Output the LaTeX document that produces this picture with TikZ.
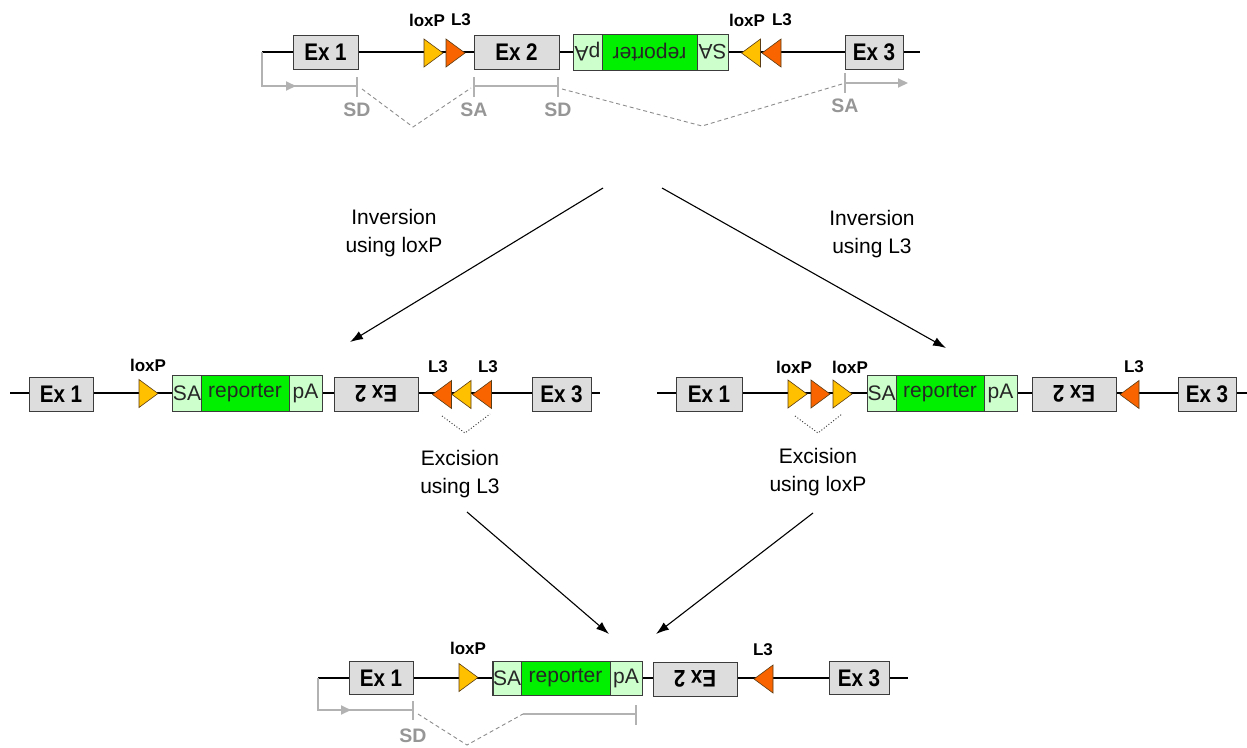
\documentclass[tikz,border=0pt]{standalone}
\usepackage{fontspec}
\setmainfont{Liberation Sans}
\newfontfamily\exfam[FakeStretch=0.86]{Liberation Sans}
\usetikzlibrary{arrows.meta}

\definecolor{exfill}{RGB}{221,221,221}
\definecolor{exedge}{RGB}{60,60,60}
\definecolor{lightgr}{RGB}{204,255,204}
\definecolor{repgr}{RGB}{0,240,0}
\definecolor{loxyel}{RGB}{255,192,0}
\definecolor{lthree}{RGB}{250,100,0}
\definecolor{triedge}{RGB}{90,60,20}
\definecolor{splgray}{RGB}{178,178,178}
\definecolor{taggray}{RGB}{150,150,150}
\definecolor{dashgray}{RGB}{140,140,140}

\tikzset{
  dna/.style={line width=2.2pt, black},
  exon/.style={draw=exedge, line width=1pt, fill=exfill, minimum height=34pt,
    inner sep=0pt, font=\exfam\bfseries\fontsize{24}{26}\selectfont},
  cas/.style={draw=exedge, line width=1pt, minimum height=36pt, inner sep=0pt,
    text=black!85, font=\fontsize{21}{23}\selectfont},
  casside/.style={cas, fill=lightgr},
  casmid/.style={cas, fill=repgr},
  site/.style={font=\bfseries\fontsize{17}{19}\selectfont, inner sep=0pt},
  note/.style={font=\fontsize{21}{28}\selectfont, align=center, inner sep=0pt},
  tag/.style={font=\bfseries\fontsize{19.5}{21}\selectfont, text=taggray, inner sep=0pt},
  splice/.style={draw=splgray, line width=2pt},
  splarrow/.style={splice, -{Triangle[length=10pt,width=9pt]}},
  spltick/.style={draw=splgray, line width=1.4pt},
  spldash/.style={draw=dashgray, line width=0.9pt, dash pattern=on 4pt off 3pt},
  vdot/.style={draw=black!80, line width=0.9pt, dash pattern=on 1pt off 2pt},
  proc/.style={draw=black, line width=1.1pt, -{Latex[length=13pt,width=9pt]}},
  pics/rtri/.style={code={\filldraw[fill=#1, draw=triedge, line width=0.6pt]
      (-9.5,-14) -- (9.5,0) -- (-9.5,14) -- cycle;}},
  pics/ltri/.style={code={\filldraw[fill=#1, draw=triedge, line width=0.6pt]
      (9.5,-14) -- (-9.5,0) -- (9.5,14) -- cycle;}},
}

\begin{document}
\begin{tikzpicture}[x=1pt, y=-1pt]
\useasboundingbox (0,0) rectangle (1247,747);

% ---------------- wild-type allele ----------------
\coordinate (t0) at (262,52);
\coordinate (t1) at (920,52);
\draw[dna] (t0) -- (t1);
\node[exon, minimum width=65pt] (tEx1) at (325.5,52.5) {Ex 1};
\pic at (433.5,53) {rtri=loxyel};
\pic at (455.5,53) {rtri=lthree};
\node[site] (tl1) at (427,20) {loxP};
\node[site] (tl2) at (461,20) {L3};
\node[exon, minimum width=85pt] (tEx2) at (516.5,52.5) {Ex 2};
\node[casside, rotate=180, minimum width=29pt] (tpA) at (587.5,52) {pA};
\node[casmid, rotate=180, minimum width=95pt] (trep) at (649.5,52) {reporter};
\node[casside, rotate=180, minimum width=31pt] (tSA) at (712.5,52) {SA};
\pic at (751,53) {ltri=loxyel};
\pic at (771.5,53) {ltri=lthree};
\node[site] (tl3) at (747,20) {loxP};
\node[site] (tl4) at (782,20) {L3};
\node[exon, minimum width=58pt] (tEx3) at (874,52.5) {Ex 3};

% splicing of the wild-type transcript
\draw[splarrow] (t0) |- (296,86);
\draw[splice] (292,86) -- (357,86);
\draw[spltick] (357,77) -- (357,97);
\node[tag] at (357,110) {SD};
\draw[spldash] (362,89) -- (413,127) -- (471,88);
\draw[spltick] (474,77) -- (474,97);
\draw[splice] (474,86) -- (558,86);
\draw[spltick] (558,77) -- (558,97);
\node[tag] at (474,110) {SA};
\node[tag] at (558,110) {SD};
\draw[spldash] (562,89) -- (702,126) -- (842,84);
\draw[spltick] (845,73) -- (845,93);
\draw[splarrow] (845,83) -- (908,83);
\node[tag] at (845,106) {SA};

% ---------------- inversion steps ----------------
\coordinate (i1s) at (603,188);
\coordinate (i1e) at (350,342);
\coordinate (i2s) at (662,188);
\coordinate (i2e) at (946,348);
\draw[proc] (i1s) -- (i1e);
\draw[proc] (i2s) -- (i2e);
\node[note] (invL) at (394,233) {Inversion\\using loxP};
\node[note] (invR) at (872,234) {Inversion\\using L3};

% ---------------- loxP-inverted allele ----------------
\coordinate (l0) at (10,393);
\coordinate (l1) at (600,393);
\draw[dna] (l0) -- (l1);
\node[exon, minimum width=64pt] (lEx1) at (61,394) {Ex 1};
\pic at (148.5,393.5) {rtri=loxyel};
\node[site] (ll1) at (148,365) {loxP};
\node[casside, minimum width=28pt] (lSA) at (187,393) {SA};
\node[casmid, minimum width=88pt] (lrep) at (245,393) {reporter};
\node[casside, minimum width=33pt] (lpA) at (305.5,393) {pA};
\node[exon, rotate=180, minimum width=84pt] (lEx2) at (376,394) {Ex 2};
\pic at (442,394.5) {ltri=lthree};
\pic at (461.5,394.5) {ltri=loxyel};
\pic at (482,394.5) {ltri=lthree};
\node[site] (ll2) at (438,367) {L3};
\node[site] (ll3) at (488,367) {L3};
\node[exon, minimum width=59pt] (lEx3) at (561.5,394) {Ex 3};
\draw[vdot] (442,416) -- (465,433) -- (490,414);
\node[note] (excL) at (460,474) {Excision\\using L3};

% ---------------- L3-inverted allele ----------------
\coordinate (r0) at (657,393);
\coordinate (r1) at (1247,393);
\draw[dna] (r0) -- (r1);
\node[exon, minimum width=66pt] (rEx1) at (709,394) {Ex 1};
\pic at (797.5,394) {rtri=loxyel};
\pic at (820.5,394) {rtri=lthree};
\pic at (842.5,394) {rtri=loxyel};
\node[site] (rl1) at (794,367) {loxP};
\node[site] (rl2) at (850,367) {loxP};
\node[casside, minimum width=29pt] (rSA) at (881.5,393) {SA};
\node[casmid, minimum width=88pt] (rrep) at (940,393) {reporter};
\node[casside, minimum width=33pt] (rpA) at (1000.5,393) {pA};
\node[exon, rotate=180, minimum width=84pt] (rEx2) at (1074,394) {Ex 2};
\pic at (1129.5,394.5) {ltri=lthree};
\node[site] (rl3) at (1134,367) {L3};
\node[exon, minimum width=58pt] (rEx3) at (1207,394) {Ex 3};
\draw[vdot] (795,416) -- (818,433) -- (842,414);
\node[note] (excR) at (818,472) {Excision\\using loxP};

% ---------------- excision steps ----------------
\coordinate (e1s) at (467,512);
\coordinate (e1e) at (609,634);
\coordinate (e2s) at (813,513);
\coordinate (e2e) at (656,634);
\draw[proc] (e1s) -- (e1e);
\draw[proc] (e2s) -- (e2e);

% ---------------- final allele ----------------
\coordinate (b0) at (318,678);
\coordinate (b1) at (908,678);
\draw[dna] (b0) -- (b1);
\node[exon, minimum width=64pt, minimum height=33pt] (bEx1) at (381,678) {Ex 1};
\pic at (468.5,677.5) {rtri=loxyel};
\node[site] (bl1) at (468,648) {loxP};
\node[casside, minimum width=28pt, minimum height=34pt] (bSA) at (507,678) {SA};
\node[casmid, minimum width=89pt, minimum height=34pt] (brep) at (565.5,678) {reporter};
\node[casside, minimum width=32pt, minimum height=34pt] (bpA) at (626,678) {pA};
\node[exon, rotate=180, minimum width=84pt, minimum height=34pt] (bEx2) at (695,679) {Ex 2};
\pic at (763.5,679) {ltri=lthree};
\node[site] (bl2) at (763,650) {L3};
\node[exon, minimum width=60pt, minimum height=33pt] (bEx3) at (859,678) {Ex 3};

% splicing of the trapped transcript
\draw[splarrow] (b0) |- (351,710);
\draw[splice] (347,710) -- (413,710);
\draw[spltick] (413,701) -- (413,720);
\node[tag] at (413,736) {SD};
\draw[spldash] (418,714) -- (467,745) -- (523,714);
\draw[splice] (523,714) -- (636,714);
\draw[spltick] (636,705) -- (636,725);
\end{tikzpicture}
\end{document}
